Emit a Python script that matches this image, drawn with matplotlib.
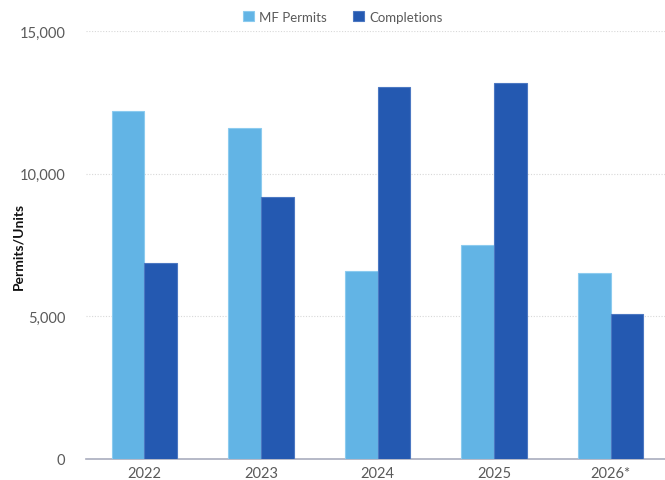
import matplotlib
matplotlib.use("Agg")
import matplotlib.pyplot as plt
import numpy as np
from matplotlib.ticker import FuncFormatter

years = ["2022", "2023", "2024", "2025", "2026*"]
mf_permits = [12200, 11600, 6590, 7500, 6520]
completions = [6870, 9180, 13040, 13180, 5080]
y_ticks = [0, 5000, 10000, 15000]

plt.rcParams["font.family"] = ["Lato", "DejaVu Sans"]

fig = plt.figure(figsize=(6.65, 4.81), dpi=100)
ax = fig.add_axes([86 / 665, (481 - 460) / 481, (669 - 86) / 665, (460 - 32) / 481])

x = np.arange(len(years))
w = 0.28
ax.bar(x - w / 2, mf_permits, w, color="#62B4E5", edgecolor="#8CCBEF", linewidth=0.8,
       label="MF Permits", zorder=3)
ax.bar(x + w / 2, completions, w, color="#2459B1", edgecolor="#4C78C2", linewidth=0.8,
       label="Completions", zorder=3)

ax.set_xlim(-0.5, 4.5)
ax.set_ylim(0, 15000)
ax.set_yticks(y_ticks)
ax.yaxis.set_major_formatter(FuncFormatter(lambda v, p: f"{int(v):,}"))
ax.set_xticks(x)
ax.set_xticklabels(years)

ax.grid(axis="y", color="#D8D8D8", linestyle=(0, (1, 1.5)), linewidth=0.8, zorder=0)
for s in ["top", "right", "left"]:
    ax.spines[s].set_visible(False)
ax.spines["bottom"].set_color("#A9ADBE")
ax.spines["bottom"].set_linewidth(1.2)
ax.tick_params(axis="both", length=0, labelsize=10.5, colors="#5A5A5A")
ax.tick_params(axis="y", pad=15)
ax.tick_params(axis="x", pad=5)

ax.set_ylabel("Permits/Units", fontsize=10, fontweight="bold", color="#111111")
ax.yaxis.set_label_coords(-(86 - 24) / 583, 0.5)

leg = fig.legend(loc="center", bbox_to_anchor=(343 / 665, 1 - 18 / 481), ncol=2, frameon=False,
                 fontsize=9.5, handlelength=0.8, handleheight=0.8, handletextpad=0.4,
                 columnspacing=2.0)
for t in leg.get_texts():
    t.set_color("#5A5A5A")

fig.savefig("out.png", dpi=100)
